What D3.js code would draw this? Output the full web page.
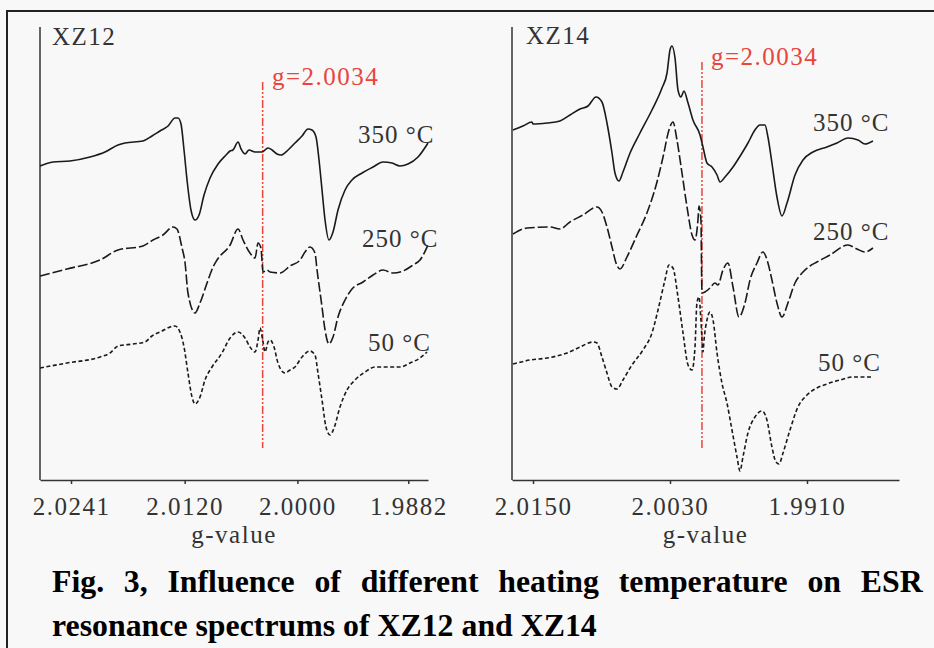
<!DOCTYPE html>
<html lang="en">
<head>
<meta charset="UTF-8">
<title>ESR spectra of XZ12 and XZ14</title>
<script src="https://d3js.org/d3.v7.min.js"></script>
<style>
    body { margin: 0; background: #f8f8f8; }
    svg { display: block; }
    .lbl { font-family: "Liberation Serif", "Times New Roman", serif; fill: #333; font-size: 25px; letter-spacing: 1.5px; }
    .axis path, .axis line { stroke: #333; stroke-width: 1.5; }
    .axis text { font-family: "Liberation Serif", "Times New Roman", serif; font-size: 25px; fill: #333; letter-spacing: 1.5px; }
    .red { font-family: "Liberation Serif", "Times New Roman", serif; fill: #e8453c; font-size: 25px; letter-spacing: 1.5px; }
    .caption { font-family: "Liberation Serif", "Times New Roman", serif; font-weight: bold; font-size: 31px; fill: #000; }
</style>
</head>
<body>
<svg width="934" height="648"></svg>
<script>
// ---- data (g-value, relative intensity a.u.) ----
const sampleNames = ["XZ12", "XZ14"];
const tempLabels = ["350 °C", "250 °C", "50 °C"];
const refLabel = "g=2.0034";

const xz12Ticks = [2.0241, 2.0120, 2.0000, 1.9882];
const xz14Ticks = [2.0150, 2.0030, 1.9910];
const xz12Domain = [2.0274, 1.9861];
const xz14Domain = [2.01684, 1.98294];
const refG = [2.0037, 2.0002];          // where the dash-dot marker is drawn
const refSpan = [[398, 32], [418, 32]]; // intensity extent of the marker

const xz12_350 = [[2.02740,314],[2.02602,318],[2.02421,319],[2.02208,323],[2.02048,328],[2.01910,335],[2.01835,337],[2.01644,339],[2.01548,344],[2.01463,349],[2.01377,354],[2.01303,362],[2.01271,362],[2.01239,356],[2.01207,330],[2.01175,300],[2.01133,270],[2.01090,260],[2.01047,265],[2.00994,285],[2.00930,302],[2.00845,316],[2.00760,325],[2.00717,329],[2.00686,330],[2.00632,338],[2.00600,331],[2.00558,326],[2.00515,330],[2.00451,328],[2.00377,328],[2.00313,332],[2.00270,330],[2.00217,326],[2.00175,325],[2.00100,330],[2.00026,337],[1.99951,344],[1.99887,351],[1.99845,350],[1.99802,343],[1.99770,320],[1.99738,290],[1.99706,260],[1.99664,240],[1.99621,248],[1.99568,270],[1.99493,290],[1.99419,300],[1.99312,307],[1.99195,313],[1.99089,318],[1.98993,317],[1.98908,314],[1.98823,316],[1.98716,323],[1.98610,337]];
const xz12_250 = [[2.02740,204],[2.02453,211],[2.02101,220],[2.01910,230],[2.01644,234],[2.01537,240],[2.01431,245],[2.01324,253],[2.01282,251],[2.01228,232],[2.01197,218],[2.01165,187],[2.01090,167],[2.01037,177],[2.00962,197],[2.00898,213],[2.00856,220],[2.00717,235],[2.00632,251],[2.00579,240],[2.00505,227],[2.00451,222],[2.00419,237],[2.00388,232],[2.00366,208],[2.00324,210],[2.00292,208],[2.00185,207],[2.00079,214],[1.99972,220],[1.99919,228],[1.99866,233],[1.99813,227],[1.99791,210],[1.99738,173],[1.99706,150],[1.99664,136],[1.99621,143],[1.99568,163],[1.99493,180],[1.99419,191],[1.99302,198],[1.99195,205],[1.99089,210],[1.98982,207],[1.98876,209],[1.98769,215],[1.98695,220],[1.98610,235]];
const xz12_50 = [[2.02740,112],[2.02453,117],[2.02101,123],[2.01995,127],[2.01910,134],[2.01750,136],[2.01622,138],[2.01548,144],[2.01441,149],[2.01356,153],[2.01303,154],[2.01250,148],[2.01207,133],[2.01165,107],[2.01122,83],[2.01090,76],[2.01037,83],[2.00984,100],[2.00909,113],[2.00803,127],[2.00717,142],[2.00632,148],[2.00558,142],[2.00505,133],[2.00451,128],[2.00419,140],[2.00398,152],[2.00366,138],[2.00345,128],[2.00313,138],[2.00292,140],[2.00249,133],[2.00207,117],[2.00132,107],[2.00079,110],[2.00026,113],[1.99951,123],[1.99866,129],[1.99813,125],[1.99781,107],[1.99738,80],[1.99696,53],[1.99653,45],[1.99610,52],[1.99547,73],[1.99472,90],[1.99387,100],[1.99280,108],[1.99174,113],[1.99046,113],[1.98908,113],[1.98801,117],[1.98695,122],[1.98620,128]];

const xz14_350 = [[2.01675,350],[2.01588,354],[2.01509,358],[2.01500,356],[2.01377,357],[2.01264,359],[2.01176,365],[2.01088,371],[2.01018,374],[2.00948,383],[2.00896,378],[2.00852,357],[2.00808,327],[2.00782,307],[2.00747,299],[2.00712,308],[2.00650,327],[2.00563,347],[2.00458,370],[2.00370,392],[2.00326,407],[2.00300,430],[2.00283,434],[2.00256,422],[2.00230,390],[2.00204,383],[2.00178,389],[2.00142,377],[2.00099,360],[2.00037,345],[2.00011,333],[1.99976,317],[1.99932,313],[1.99888,305],[1.99862,298],[1.99818,303],[1.99748,313],[1.99669,327],[1.99617,337],[1.99556,350],[1.99512,355],[1.99468,355],[1.99442,343],[1.99407,317],[1.99363,283],[1.99319,264],[1.99275,277],[1.99205,305],[1.99135,320],[1.99048,328],[1.98925,333],[1.98837,337],[1.98741,342],[1.98653,340],[1.98592,336],[1.98522,339]];
const xz14_250 = [[2.01675,246],[2.01553,252],[2.01351,253],[2.01264,251],[2.01176,258],[2.01062,265],[2.00940,273],[2.00896,268],[2.00852,253],[2.00808,233],[2.00773,217],[2.00738,211],[2.00677,223],[2.00589,245],[2.00502,267],[2.00414,298],[2.00361,323],[2.00309,350],[2.00274,358],[2.00239,340],[2.00195,307],[2.00151,273],[2.00107,245],[2.00081,240],[2.00055,260],[2.00046,274],[2.00029,260],[2.00020,187],[1.99994,188],[1.99950,192],[1.99906,197],[1.99880,195],[1.99836,210],[1.99792,217],[1.99748,193],[1.99696,163],[1.99643,177],[1.99599,200],[1.99538,217],[1.99486,228],[1.99442,217],[1.99407,200],[1.99363,177],[1.99319,163],[1.99267,177],[1.99205,197],[1.99135,208],[1.99074,214],[1.99013,218],[1.98899,225],[1.98741,235],[1.98662,231],[1.98592,228],[1.98522,232]];
const xz14_50 = [[2.01675,116],[2.01526,120],[2.01377,122],[2.01202,127],[2.01088,133],[2.00975,138],[2.00940,137],[2.00896,123],[2.00852,107],[2.00808,93],[2.00764,91],[2.00712,100],[2.00633,115],[2.00537,130],[2.00458,147],[2.00405,170],[2.00344,200],[2.00309,215],[2.00274,212],[2.00230,183],[2.00186,147],[2.00142,115],[2.00107,110],[2.00081,133],[2.00064,177],[2.00046,183],[2.00029,160],[2.00011,128],[2.00002,140],[1.99976,160],[1.99950,168],[1.99923,160],[1.99888,127],[1.99845,97],[1.99801,77],[1.99757,50],[1.99713,23],[1.99687,9],[1.99661,23],[1.99617,47],[1.99556,63],[1.99494,69],[1.99451,60],[1.99407,33],[1.99372,18],[1.99345,16],[1.99310,27],[1.99249,50],[1.99179,73],[1.99100,85],[1.99013,92],[1.98925,96],[1.98811,100],[1.98697,103],[1.98522,103]];

const captionLines = [
    "Fig. 3, Influence of different heating temperature on ESR",
    "resonance spectrums of XZ12 and XZ14"
];

// ---- layout ----
const svg = d3.select("svg");
const plotTop = 27, plotBottom = 480;
const y = d3.scaleLinear().domain([0, 453]).range([plotBottom, plotTop]);
const dashes = [null, "10,3", "4,2.5"];

const panels = [
    { name: sampleNames[0], domain: xz12Domain, ticks: xz12Ticks, range: [40, 428], series: [xz12_350, xz12_250, xz12_50],
      nameAt: [52, 45], refAt: [272, 85], tempAt: [[358, 143], [362, 247], [368, 351]] },
    { name: sampleNames[1], domain: xz14Domain, ticks: xz14Ticks, range: [512, 899], series: [xz14_350, xz14_250, xz14_50],
      nameAt: [526, 44], refAt: [711, 65], tempAt: [[813, 131], [813, 240], [818, 371]] }
];

// outer frame (top and left edge only)
svg.append("rect").attr("width", 934).attr("height", 648).attr("fill", "#f8f8f8");
svg.append("path").attr("d", "M7,648V11H934").attr("fill", "none").attr("stroke", "#222").attr("stroke-width", 2);

panels.forEach((p, i) => {
    const x = d3.scaleLinear().domain(p.domain).range(p.range);
    const g = svg.append("g");

    // axes
    const ax = g.append("g").attr("class", "axis").attr("transform", `translate(0,${plotBottom})`)
        .call(d3.axisBottom(x).tickValues(p.ticks).tickFormat(d3.format(".4f")).tickSizeInner(4).tickSizeOuter(0));
    ax.selectAll("text").attr("dy", null).attr("y", 35);
    g.append("line").attr("x1", p.range[0]).attr("x2", p.range[0]).attr("y1", plotTop).attr("y2", plotBottom)
        .attr("stroke", "#333").attr("stroke-width", 1.5);

    g.append("text").attr("class", "lbl").attr("x", (p.range[0] + p.range[1]) / 2).attr("y", 543)
        .attr("text-anchor", "middle").text("g-value");
    g.append("text").attr("class", "lbl").attr("x", p.nameAt[0]).attr("y", p.nameAt[1]).text(p.name);

    // reference marker
    g.append("line").attr("x1", x(refG[i])).attr("x2", x(refG[i]))
        .attr("y1", y(refSpan[i][0])).attr("y2", y(refSpan[i][1]))
        .attr("stroke", "#e8453c").attr("stroke-width", 1.5).attr("stroke-dasharray", "8,2,2,2,2,2");
    g.append("text").attr("class", "red").attr("x", p.refAt[0]).attr("y", p.refAt[1]).text(refLabel);

    // spectra
    const line = d3.line().x(d => x(d[0])).y(d => y(d[1])).curve(d3.curveMonotoneX);
    p.series.forEach((s, k) => {
        g.append("path").datum(s).attr("d", line)
            .attr("fill", "none").attr("stroke", "#1a1a1a").attr("stroke-width", 1.6)
            .attr("stroke-linejoin", "round")
            .attr("stroke-dasharray", dashes[k]);
        g.append("text").attr("class", "lbl").style("letter-spacing", "1px")
            .attr("x", p.tempAt[k][0]).attr("y", p.tempAt[k][1]).text(tempLabels[k]);
    });
});

// caption: bold serif, first line justified to the right edge
const capX = 52, capRight = 923, capBase = [592, 636], line2Right = 597;
const c2 = svg.append("text").attr("class", "caption").attr("y", capBase[1]).text(captionLines[1]);
const sx = (line2Right - capX) / c2.node().getComputedTextLength();
c2.attr("transform", `translate(${capX},0) scale(${sx},1)`);
const c1 = svg.append("text").attr("class", "caption").attr("y", capBase[0]).text(captionLines[0]);
const words = captionLines[0].split(" ").length - 1;
const extra = ((capRight - capX) / sx - c1.node().getComputedTextLength()) / words;
c1.style("word-spacing", extra + "px").attr("transform", `translate(${capX},0) scale(${sx},1)`);
</script>
</body>
</html>
